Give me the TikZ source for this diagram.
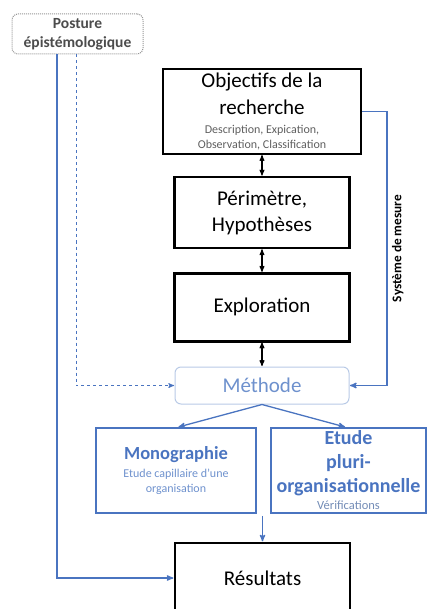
\documentclass[tikz,border=0pt]{standalone}
\usepackage{fontspec}
\setmainfont{Carlito}
\usetikzlibrary{positioning, arrows}

\definecolor{ofblue}{RGB}{74,116,192}
\definecolor{lightblue}{RGB}{110,145,205}
\definecolor{paleblue}{RGB}{185,202,230}
\definecolor{txtgray}{RGB}{95,95,95}
\definecolor{dotgray}{RGB}{150,150,150}

\newcommand{\bigtxt}{\fontsize{21}{26}\selectfont}
\newcommand{\smalltxt}{\fontsize{12}{15}\selectfont}

\begin{document}
\begin{tikzpicture}[x=1pt, y=-1pt, >=stealth', shorten >= 0.5pt,
    blk/.style = {draw, line width=2.2pt, minimum width=175pt, align=center, inner sep=0pt, font=\bigtxt},
    bluebox/.style = {draw=ofblue, line width=1.8pt, align=center, inner sep=0pt, minimum height=85pt},
    blueline/.style = {draw=ofblue, line width=1.3pt},
    dblarrow/.style = {<->, line width=1.1pt}]
  \useasboundingbox (0,0) rectangle (427,609);

  \node[draw=dotgray, densely dotted, line width=1pt, rounded corners=6pt, minimum width=131pt, minimum height=40pt,
        align=center, inner sep=0pt, text=txtgray!80!black, font=\fontsize{15.5}{19}\selectfont\bfseries]
        (posture) at (77.5,34) {Posture\\épistémologique};

  \node[blk, minimum width=198pt, minimum height=85pt] (obj) at (262,111.5)
        {Objectifs de la\\[1pt]recherche\\[-7pt]{\smalltxt\color{txtgray}Description, Expication,}\\[-11pt]{\smalltxt\color{txtgray}Observation, Classification}};
  \node[blk, minimum height=71pt] (peri) [below = 21pt of obj] {Périmètre,\\Hypothèses};
  \node[blk, minimum height=68pt] (expl) [below = 23pt of peri] {Exploration};
  \node[draw=paleblue, line width=1pt, rounded corners=6pt, minimum width=174pt, minimum height=37pt, inner sep=0pt,
        text=lightblue, font=\bigtxt] (meth) [below = 24pt of expl] {Méthode};

  \node[bluebox, minimum width=160pt, font=\smalltxt] (mono) at (176,470.5)
        {{\fontsize{18.5}{22}\selectfont\bfseries\color{ofblue}Monographie}\\[3pt]
         {\color{lightblue}Etude capillaire d'une}\\{\color{lightblue}organisation}};
  \node[bluebox, minimum width=155pt, font=\fontsize{20}{24}\selectfont\bfseries, text=ofblue] (etud) at (348.5,470.5)
        {Etude\\pluri-\\organisationnelle\\[-7pt]
         {\fontsize{12.5}{15}\selectfont\mdseries\color{lightblue!70!gray}Vérifications}};

  \node[blk, minimum height=70pt] (resu) at (262.5,578) {Résultats};

  % liens de la colonne
  \draw[dblarrow] (obj.south) -- (peri.north);
  \draw[dblarrow] (peri.south) -- (expl.north);
  \draw[dblarrow] (expl.south) -- (meth.north);

  % systeme de mesure
  \coordinate (sm) at ([xshift=25pt]obj.east);
  \draw[blueline, ->] (obj.east) -- (sm) |- node[pos=0.25, rotate=90, anchor=north, yshift=-1pt, text=black,
        font=\fontsize{13.3}{15}\selectfont\bfseries] {Système de mesure} (meth.east);

  % posture
  \draw[blueline, dashed, line width=1pt, ->] ([xshift=-1.5pt]posture.south) |- (meth.west);
  \draw[blueline, ->] ([xshift=-20.5pt]posture.south) |- (resu.west);

  \draw[blueline, ->] (meth.south) -- ([xshift=2pt]mono.north);
  \draw[blueline, ->] (meth.south) -- ([xshift=-3pt]etud.north);
  \draw[blueline, ->] ([yshift=-2pt]mono.south -| resu.north) -- (resu.north);
\end{tikzpicture}
\end{document}
